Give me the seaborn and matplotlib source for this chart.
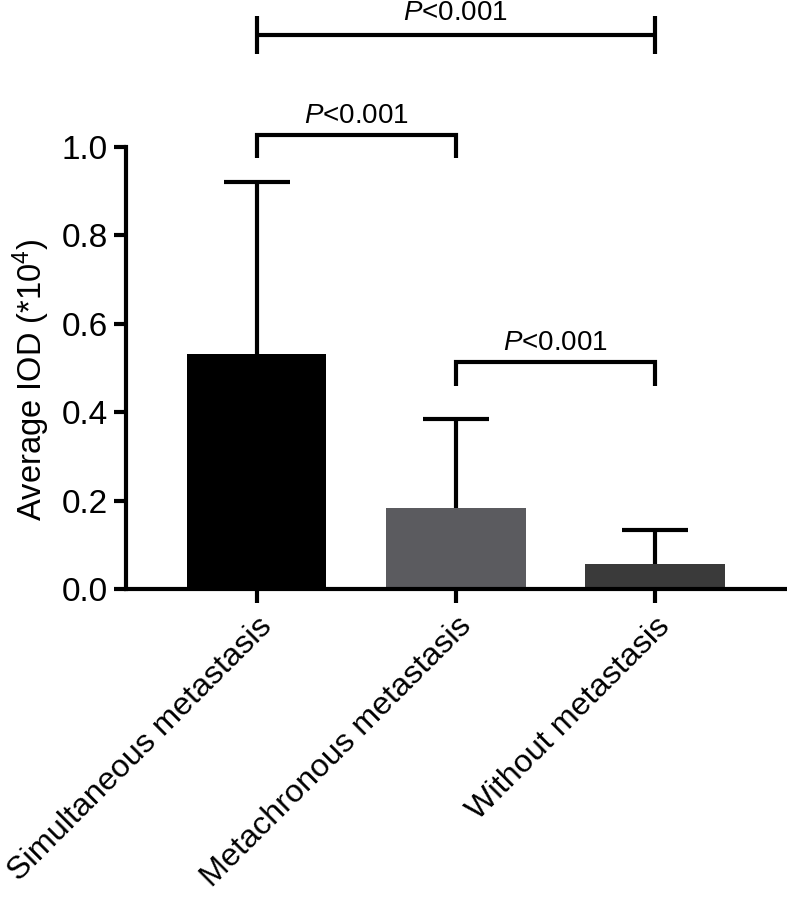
import matplotlib
matplotlib.use("Agg")
import matplotlib.pyplot as plt
import seaborn as sns
import pandas as pd
import numpy as np

categories = ["Simultaneous metastasis", "Metachronous metastasis", "Without metastasis"]
means = [0.532, 0.183, 0.057]
sd_upper = [0.389, 0.202, 0.077]
bar_colors = ["#000000", "#5b5b5f", "#3a3a3a"]
yticks = [0.0, 0.2, 0.4, 0.6, 0.8, 1.0]
ylabel = "Average IOD (*10$^4$)"
p_text = "$P$<0.001"
# comparisons: (group a, group b, bracket height, leg drop, style)
comparisons = [(0, 1, 1.027, 0.052, "down"), (1, 2, 0.514, 0.054, "down"), (0, 2, 1.253, 0.043, "both")]

sns.set_style("ticks")
plt.rcParams["font.family"] = ["Liberation Sans", "DejaVu Sans"]
plt.rcParams["mathtext.fontset"] = "custom"
plt.rcParams["mathtext.rm"] = "Liberation Sans"
plt.rcParams["mathtext.it"] = "Liberation Sans:italic"
plt.rcParams["mathtext.bf"] = "Liberation Sans:bold"
plt.rcParams["text.color"] = "black"
plt.rcParams["axes.labelcolor"] = "black"
plt.rcParams["xtick.color"] = "black"
plt.rcParams["ytick.color"] = "black"

df = pd.DataFrame({"group": categories, "value": means})

fig = plt.figure(figsize=(7.87, 8.99), dpi=100)
ax = fig.add_axes([0.1601, 0.3448, 0.8399, 0.4920])

sns.barplot(data=df, x="group", y="value", hue="group", palette=bar_colors,
            legend=False, width=0.7, errorbar=None, ax=ax, edgecolor="none", saturation=1)

lw = 3.0
eb = ax.errorbar(np.arange(len(categories)), means,
                 yerr=[np.zeros(len(means)), sd_upper], fmt="none", ecolor="black",
                 elinewidth=lw, capsize=24, capthick=lw, zorder=1)
# hide the lower caps (only upper error shown)
eb[1][0].set_visible(False)

ax.set_ylim(0, 1.0)
ax.set_xlim(-0.657, 2.663)
ax.set_yticks(yticks)
ax.set_yticklabels([f"{t:.1f}" for t in yticks])
ax.set_ylabel(ylabel, fontsize=23.5)
ax.yaxis.set_label_coords(-0.112, 0.472)
ax.set_xlabel("")
ax.tick_params(axis="y", labelsize=24, width=lw, length=9, pad=4)
ax.tick_params(axis="x", labelsize=23.3, width=lw, length=10, pad=6)
for lab in ax.get_xticklabels():
    lab.set_rotation(45)
    lab.set_ha("right")
    lab.set_rotation_mode("anchor")

sns.despine(ax=ax)
for s in ["left", "bottom"]:
    ax.spines[s].set_linewidth(lw)
    ax.spines[s].set_color("black")

for a, b, h, d, style in comparisons:
    if style == "down":
        ax.plot([a, a, b, b], [h - d, h, h, h - d], color="black", lw=lw,
                clip_on=False, solid_capstyle="butt", solid_joinstyle="miter")
        ty = h + 0.043
    else:
        ax.plot([a, b], [h, h], color="black", lw=lw, clip_on=False, solid_capstyle="butt")
        ax.plot([a, a], [h - d, h + d], color="black", lw=lw, clip_on=False, solid_capstyle="butt")
        ax.plot([b, b], [h - d, h + d], color="black", lw=lw, clip_on=False, solid_capstyle="butt")
        ty = h + 0.049
    ax.text((a + b) / 2, ty, p_text, ha="center", va="center", fontsize=20)

fig.savefig("out.png", dpi=100)
